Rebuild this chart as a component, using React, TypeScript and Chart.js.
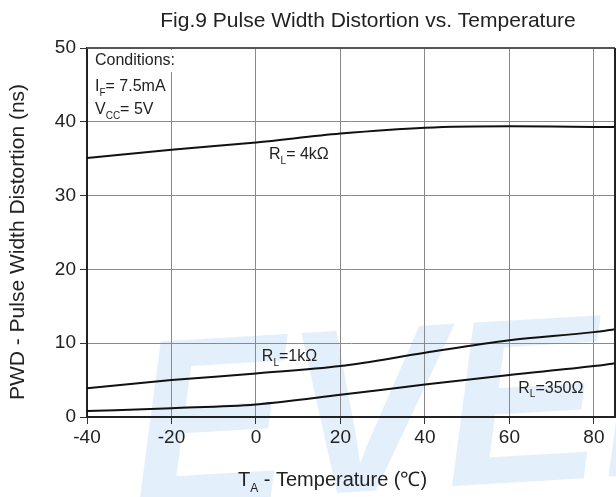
import React, { useEffect, useRef } from "react";
import { Chart, registerables } from "chart.js";
Chart.register(...registerables);

const temps = [-40, -20, 0, 20, 40, 60, 80, 85];
const pwd4k = [35.1, 36.2, 37.2, 38.4, 39.2, 39.4, 39.3, 39.3];
const pwd1k = [3.9, 5.0, 5.9, 6.9, 8.7, 10.4, 11.5, 11.9];
const pwd350 = [0.8, 1.2, 1.7, 3.0, 4.4, 5.7, 6.9, 7.3];
const xTicks = [-40, -20, 0, 20, 40, 60, 80];
const yTicks = [0, 10, 20, 30, 40, 50];

const FONT = "'Liberation Sans', Arial, sans-serif";

function subText(ctx: CanvasRenderingContext2D, x: number, y: number, parts: [string, boolean][], size: number) {
  let cx = x;
  for (const [t, sub] of parts) {
    ctx.font = `${sub ? Math.round(size * 0.62) : size}px ${FONT}`;
    ctx.fillText(t, cx, sub ? y + size * 0.3 : y);
    cx += ctx.measureText(t).width;
  }
}

const drawPlugin = {
  id: "drawExtras",
  beforeDraw(chart: any) {
    const ctx = chart.ctx as CanvasRenderingContext2D;
    ctx.save();
    ctx.fillStyle = "#ffffff";
    ctx.fillRect(0, 0, chart.width, chart.height);
    // watermark
    ctx.fillStyle = "rgba(200,224,246,0.5)";
    ctx.font = `bold italic 235px ${FONT}`;
    ctx.translate(135, 505);
    ctx.rotate(-0.06);
    ctx.fillText("EVER", 0, 0);
    ctx.restore();
  },
  afterDraw(chart: any) {
    const ctx = chart.ctx as CanvasRenderingContext2D;
    const xs = chart.scales.x;
    const ys = chart.scales.y;
    const a = chart.chartArea;
    ctx.save();
    // border
    ctx.strokeStyle = "#555";
    ctx.lineWidth = 2;
    ctx.beginPath();
    ctx.moveTo(a.left, a.top);
    ctx.lineTo(a.right, a.top);
    ctx.stroke();
    ctx.strokeStyle = "#222";
    ctx.beginPath();
    ctx.moveTo(a.right, a.top);
    ctx.lineTo(a.right, a.bottom);
    ctx.stroke();
    // title
    ctx.fillStyle = "#222";
    ctx.textBaseline = "alphabetic";
    ctx.textAlign = "center";
    ctx.font = `21px ${FONT}`;
    ctx.fillText("Fig.9 Pulse Width Distortion vs. Temperature", 368, 27);
    // y title
    ctx.save();
    ctx.translate(24, 242);
    ctx.rotate(-Math.PI / 2);
    ctx.font = `21px ${FONT}`;
    ctx.fillText("PWD - Pulse Width Distortion (ns)", 0, 0);
    ctx.restore();
    // x title
    ctx.textAlign = "left";
    subText(ctx, 238, 486, [["T", false], ["A", true], [" - Temperature (\u2103)", false]], 20);
    // conditions
    ctx.fillStyle = "#ffffff";
    ctx.fillRect(a.left + 2, a.top + 2, 92, 22);
    ctx.fillStyle = "#222";
    subText(ctx, 95, 65, [["Conditions:", false]], 16);
    subText(ctx, 95, 91, [["I", false], ["F", true], ["= 7.5mA", false]], 16);
    subText(ctx, 95, 114, [["V", false], ["CC", true], ["= 5V", false]], 16);
    // curve labels
    subText(ctx, xs.getPixelForValue(3.1), ys.getPixelForValue(35.0), [["R", false], ["L", true], ["= 4k\u03A9", false]], 16);
    subText(ctx, xs.getPixelForValue(1.4), ys.getPixelForValue(7.6), [["R", false], ["L", true], ["=1k\u03A9", false]], 16);
    subText(ctx, xs.getPixelForValue(62.1), ys.getPixelForValue(3.3), [["R", false], ["L", true], ["=350\u03A9", false]], 16);
    ctx.restore();
  },
};

export default function App() {
  const ref = useRef<HTMLCanvasElement>(null);
  useEffect(() => {
    const mk = (d: number[]) => ({
      data: temps.map((t, i) => ({ x: t, y: d[i] })),
      borderColor: "#111",
      borderWidth: 2,
      pointRadius: 0,
      cubicInterpolationMode: "monotone" as const,
      fill: false,
    });
    const chart = new Chart(ref.current!, {
      type: "line",
      data: { datasets: [mk(pwd4k), mk(pwd1k), mk(pwd350)] },
      options: {
        animation: false,
        responsive: false,
        devicePixelRatio: 1,
        layout: { padding: { left: 0, top: 48, right: 1, bottom: 0 } },
        plugins: { legend: { display: false }, tooltip: { enabled: false }, title: { display: false } },
        scales: {
          x: {
            type: "linear",
            min: -40,
            max: 85,
            afterBuildTicks: (s: any) => { s.ticks = xTicks.map((v) => ({ value: v })); },
            afterFit: (s: any) => { s.height = 80; },
            grid: { color: "#8a8a8a", lineWidth: 1, tickLength: 7, tickColor: "#333" },
            border: { color: "#222", width: 2 },
            ticks: { color: "#222", font: { family: FONT, size: 19 }, padding: 2, maxRotation: 0 },
          },
          y: {
            type: "linear",
            min: 0,
            max: 50,
            afterBuildTicks: (s: any) => { s.ticks = yTicks.map((v) => ({ value: v })); },
            afterFit: (s: any) => { s.width = 87; },
            grid: { color: "#8a8a8a", lineWidth: 1, tickLength: 7, tickColor: "#333" },
            border: { color: "#222", width: 2 },
            ticks: { color: "#222", font: { family: FONT, size: 19 }, padding: 4 },
          },
        },
      },
      plugins: [drawPlugin],
    });
    return () => chart.destroy();
  }, []);
  return (
    <div style={{ position: "absolute", left: 0, top: 0, width: 616, height: 497 }}>
      <canvas ref={ref} width={616} height={497} style={{ width: 616, height: 497 }} />
    </div>
  );
}
